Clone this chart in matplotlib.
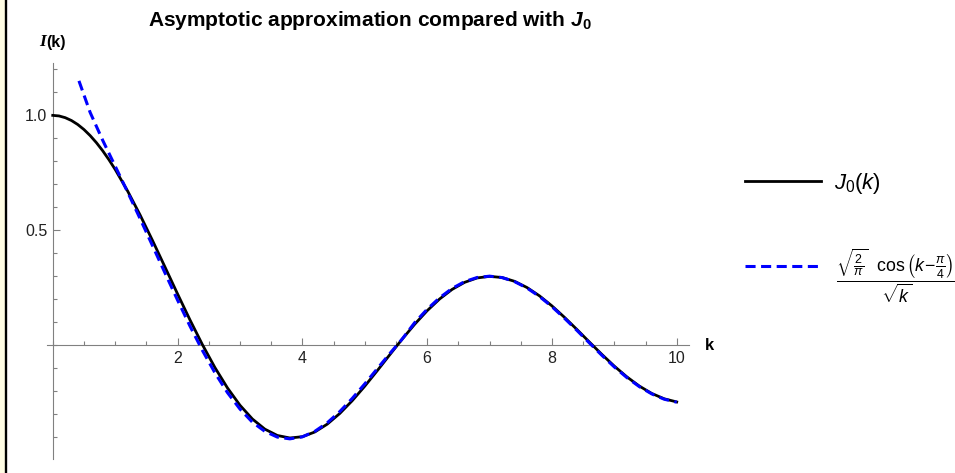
import matplotlib
matplotlib.use("Agg")
import matplotlib.pyplot as plt
from matplotlib.lines import Line2D
from matplotlib.patches import Rectangle
from matplotlib.ticker import MultipleLocator

plt.rcParams['font.family'] = ['Liberation Sans', 'DejaVu Sans']
plt.rcParams['mathtext.fontset'] = 'custom'
plt.rcParams['mathtext.rm'] = 'Liberation Sans'
plt.rcParams['mathtext.it'] = 'Liberation Sans:italic'
plt.rcParams['mathtext.bf'] = 'Liberation Sans:bold'
plt.rcParams['mathtext.bfit'] = 'Liberation Sans:bold:italic'

# Bessel J0, finer steps near the top of the curve
k_j0 = [0.0, 0.1, 0.2, 0.3, 0.4, 0.5, 0.6, 0.7, 0.8, 0.9, 1.0, 1.2, 1.4, 1.6,
        1.8, 2.0, 2.2, 2.4, 2.6, 2.8, 3.0, 3.2, 3.4, 3.6, 3.8, 4.0, 4.2, 4.4,
        4.6, 4.8, 5.0, 5.2, 5.4, 5.6, 5.8, 6.0, 6.2, 6.4, 6.6, 6.8, 7.0, 7.2,
        7.4, 7.6, 7.8, 8.0, 8.2, 8.4, 8.6, 8.8, 9.0, 9.2, 9.4, 9.6, 9.8, 10.0]
j0 = [1.0, 0.9975, 0.9900, 0.9776, 0.9604, 0.9385, 0.9120, 0.8812, 0.8463,
      0.8075, 0.7652, 0.6711, 0.5669, 0.4554, 0.3400, 0.2239, 0.1104, 0.0025,
      -0.0968, -0.1850, -0.2601, -0.3202, -0.3643, -0.3918, -0.4026, -0.3971,
      -0.3766, -0.3423, -0.2961, -0.2404, -0.1776, -0.1103, -0.0412, 0.0270,
      0.0917, 0.1506, 0.2017, 0.2433, 0.2740, 0.2931, 0.3001, 0.2951, 0.2786,
      0.2516, 0.2154, 0.1717, 0.1222, 0.0692, 0.0146, -0.0392, -0.0903,
      -0.1367, -0.1768, -0.2090, -0.2323, -0.2459]

# large-k approximation, starting where it enters the plot range
k_asy = [0.42, 0.6, 0.8, 1.0, 1.2, 1.4, 1.6, 1.8, 2.0, 2.2, 2.4, 2.6, 2.8,
         3.0, 3.2, 3.4, 3.6, 3.8, 4.0, 4.2, 4.4, 4.6, 4.8, 5.0, 5.2, 5.4, 5.6,
         5.8, 6.0, 6.2, 6.4, 6.6, 6.8, 7.0, 7.2, 7.4, 7.6, 7.8, 8.0, 8.2, 8.4,
         8.6, 8.8, 9.0, 9.2, 9.4, 9.6, 9.8, 10.0]
asy = [1.150, 1.0124, 0.8920, 0.7796, 0.6667, 0.5509, 0.4329, 0.3143, 0.1971,
       0.0836, -0.0226, -0.1195, -0.2053, -0.2766, -0.3339, -0.3739, -0.3988,
       -0.4064, -0.3977, -0.3738, -0.3365, -0.2879, -0.2306, -0.1676, -0.1018,
       -0.0362, 0.0275, 0.0986, 0.1569, 0.2070, 0.2475, 0.2771, 0.2950,
       0.3009, 0.2948, 0.2774, 0.2495, 0.2126, 0.1684, 0.1183, 0.0653, 0.0107,
       -0.0430, -0.0938, -0.1397, -0.1792, -0.2110, -0.2341, -0.2470]

W, H = 955, 473
fig = plt.figure(figsize=(W / 100, H / 100), dpi=100)

# pale strip and black rule on the left edge
fig.add_artist(Rectangle((0, 0), 5 / W, 1, transform=fig.transFigure,
                         facecolor='#fffde4', edgecolor='none'))
fig.add_artist(Line2D([6.2 / W, 6.2 / W], [0, 1], transform=fig.transFigure,
                      color='black', lw=1.7))

ax = fig.add_axes([46.5 / W, 1 - 459 / H, (689.2 - 46.5) / W, (459 - 62.7) / H])
ax.set_xlim(-0.1, 10.2)
ax.set_ylim(-0.494, 1.229)

axis_gray = '#808080'
for side in ['top', 'right']:
    ax.spines[side].set_visible(False)
for side in ['left', 'bottom']:
    ax.spines[side].set_position(('data', 0))
    ax.spines[side].set_color(axis_gray)
    ax.spines[side].set_linewidth(0.8)

ax.set_xticks([2, 4, 6, 8, 10])
ax.xaxis.set_minor_locator(MultipleLocator(0.5))
ax.set_yticks([0.5, 1.0])
ax.set_yticklabels(['0.5', '1.0'])
ax.yaxis.set_minor_locator(MultipleLocator(0.1))
ax.tick_params(which='both', direction='in', color=axis_gray, width=0.8,
               labelsize=11.5, labelcolor='#222222')
ax.tick_params(which='major', length=5, pad=4)
ax.tick_params(which='minor', length=3)

ax.plot(k_j0, j0, color='black', lw=2.0, zorder=3)
blue, = ax.plot(k_asy, asy, color='#0000ff', lw=2.2, zorder=4)
blue.set_dashes((3.3, 1.8))

ax.text(10.53, 0, 'k', fontsize=12, fontweight='bold', ha='center',
        va='center', clip_on=False)

# vertical axis label: script-like italic I followed by bold (k)
fig.text(46 / W, 1 - 42 / H, 'I', family='Liberation Serif', style='italic',
         fontweight='bold', fontsize=12.5, ha='right', va='center')
fig.text(46 / W, 1 - 42 / H, '(k)', fontsize=11.5, fontweight='bold',
         ha='left', va='center')

fig.text(370 / W, 1 - 20 / H,
         r'Asymptotic approximation compared with $\mathbfit{J}_\mathbf{0}$',
         ha='center', va='center', fontsize=15, fontweight='bold')

# legend keys drawn by hand
fig.add_artist(Line2D([745 / W, 821 / W], [1 - 180.7 / H] * 2,
                      transform=fig.transFigure, color='black', lw=2.0))
key = Line2D([745 / W, 819 / W], [1 - 265.5 / H] * 2,
             transform=fig.transFigure, color='#0000ff', lw=2.2)
key.set_dashes((3.3, 1.8))
fig.add_artist(key)
fig.text(834 / W, 1 - 183 / H, r'$J_0(k)$', fontsize=16, ha='left',
         va='center')
fig.text(836 / W, 1 - 266 / H,
         r'$\dfrac{\sqrt{\frac{2}{\pi}}\ \ \cos\left(k\!-\!\frac{\pi}{4}\right)}{\sqrt{k}}$',
         fontsize=12.8, ha='left', va='center_baseline')

fig.savefig('out.png', dpi=100)
